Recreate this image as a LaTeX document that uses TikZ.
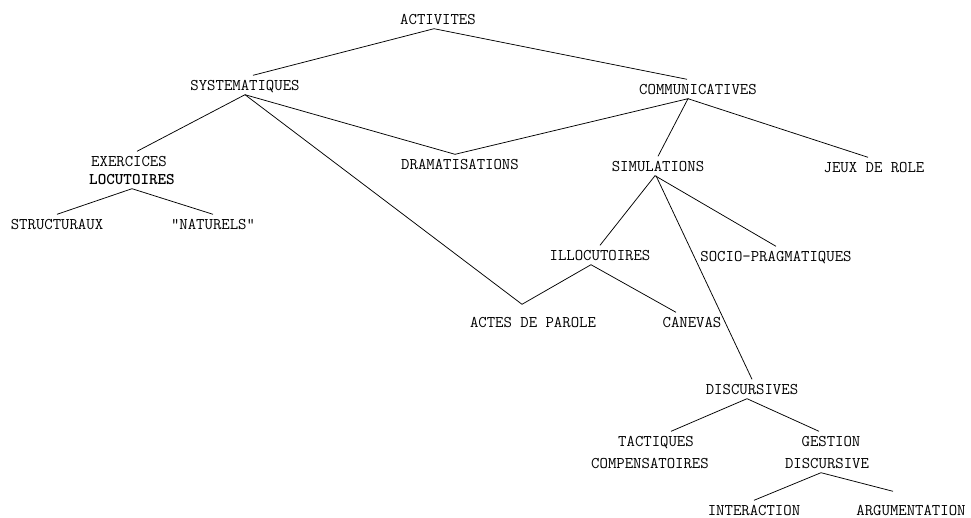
\documentclass[tikz,border=0pt]{standalone}
\tikzset{
  activity tree/.style={
    x=1pt, y=-1pt,
    every node/.style=word,
  },
  word/.style={
    font=\ttfamily\fontsize{16.3}{18}\selectfont,
    inner xsep=0pt, inner ysep=4.5pt,
    text height=10pt, text depth=0pt,
  },
  branch/.style={line width=0.75pt},
}

\begin{document}
\begin{tikzpicture}[
  activity tree,
]
\useasboundingbox (0,0) rectangle (971,517);

\node (act)    at (438,19)  {ACTIVITES};
\node (sys)    at (245,85)  {SYSTEMATIQUES};
\node (comm)   at (698,89)  {COMMUNICATIVES};
\node (exer)   at (129,161) {EXERCICES};
\node (locut)  at (132,179) {\bfseries LOCUTOIRES};
\node (dram)   at (460,164) {DRAMATISATIONS};
\node (sim)    at (658,166) {SIMULATIONS};
\node (jeux)   at (874,167) {JEUX DE ROLE};
\node (struct) at (57,224)  {STRUCTURAUX};
\node (natur)  at (213,224) {"NATURELS"};
\node (illoc)  at (600,255) {ILLOCUTOIRES};
\node (socio)  at (776,256) {SOCIO-PRAGMATIQUES};
\node (actes)  at (533,322) {ACTES DE PAROLE};
\node (canev)  at (692,322) {CANEVAS};
\node (disc)   at (752,389) {DISCURSIVES};
\node (tact)   at (656,441) {TACTIQUES};
\node (comp)   at (650,463) {COMPENSATOIRES};
\node (gest)   at (831,441) {GESTION};
\node (discv)  at (827,463) {DISCURSIVE};
\node (inter)  at (754,510) {INTERACTION};
\node (argu)   at (911,510) {ARGUMENTATION};

% upper levels
\draw[branch] ([xshift=8pt]sys.north) -- ([xshift=-4pt]act.south)
  -- ([xshift=-11pt]comm.north);
\draw[branch] ([xshift=8pt]exer.north) -- (sys.south)
  -- ([xshift=-5pt]dram.north);
\draw[branch] (sys.south) -- ([xshift=-11pt,yshift=8pt]actes.north);
\draw[branch] ([xshift=-5pt]dram.north) -- ([xshift=-10pt]comm.south)
  -- (sim.north);
\draw[branch] ([xshift=-10pt]comm.south) -- ([xshift=-6pt]jeux.north);
\draw[branch] (struct.north) -- (locut.south) -- (natur.north);

% simulations
\draw[branch] (illoc.north) -- ([xshift=-3pt]sim.south) -- (socio.north);
\draw[branch] ([xshift=-2pt]sim.south) -- (disc.north);
\draw[branch] ([xshift=-11pt,yshift=8pt]actes.north) -- ([xshift=-9pt]illoc.south)
  -- ([xshift=-16pt]canev.north);
\draw[branch] ([xshift=15pt]tact.north) -- ([xshift=-5pt]disc.south)
  -- ([xshift=-12pt]gest.north);
\draw[branch] (inter.north) -- ([xshift=-6pt]discv.south)
  -- ([xshift=-18pt,yshift=9pt]argu.north);
\end{tikzpicture}
\end{document}
